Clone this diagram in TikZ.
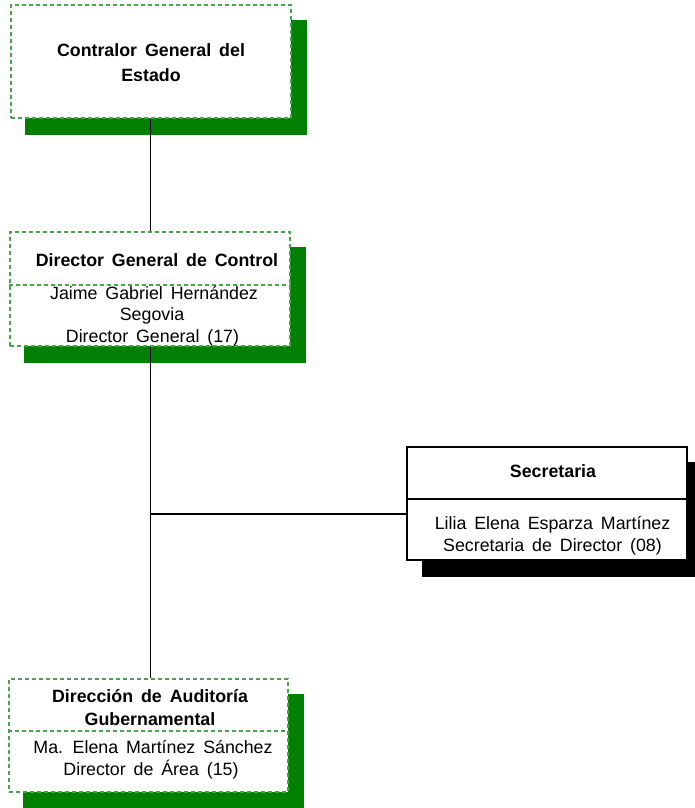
\documentclass[tikz,border=0pt]{standalone}
\usepackage{fontspec}
\setmainfont[WordSpace=1.6]{Liberation Sans}
\usetikzlibrary{backgrounds}
\definecolor{dashgreen}{RGB}{70,165,70}
\definecolor{shgreen}{RGB}{0,128,0}
\tikzset{
  gbox/.style={draw=dashgreen, line width=1.3bp, dash pattern=on 4bp off 3bp, fill=white, rectangle, inner sep=0pt},
  kbox/.style={draw=black, line width=1.1bp, fill=white, rectangle, inner sep=0pt},
  gline/.style={draw=dashgreen, line width=1.3bp, dash pattern=on 4bp off 3bp},
  kline/.style={draw=black, line width=1.1bp},
  txt/.style={anchor=base, inner sep=0pt, font=\fontsize{17.8bp}{22bp}\selectfont},
  hd/.style={txt, font=\fontsize{17.8bp}{22bp}\selectfont\bfseries},
  conn/.style={draw=black, line width=1.8bp},
}
\begin{document}
\begin{tikzpicture}[x=1bp, y=-1bp]
\useasboundingbox (0,0) rectangle (695,808);
% boxes
\node[gbox, minimum width=280bp, minimum height=113bp] (b1) at (151,61.5) {};
\node[gbox, minimum width=280bp, minimum height=114bp] (b2) at (150,289) {};
\node[kbox, minimum width=280bp, minimum height=113bp] (s) at (547,503.5) {};
\node[gbox, minimum width=279bp, minimum height=113bp] (b4) at (148.5,735.5) {};
% shadows
\begin{pgfonlayer}{background}
\fill[shgreen] ([shift={(15,16)}]b1.south west) rectangle ([shift={(15,16)}]b1.north east);
\fill[shgreen] ([shift={(15,16)}]b2.south west) rectangle ([shift={(15,16)}]b2.north east);
\fill[black] ([shift={(16,16)}]s.south west) rectangle ([shift={(16,16)}]s.north east);
\fill[shgreen] ([shift={(15,16)}]b4.south west) rectangle ([shift={(15,16)}]b4.north east);
\end{pgfonlayer}
% dividers
\draw[gline] (b2.west |- 0,285) -- (b2.east |- 0,285);
\draw[kline] (s.west |- 0,499) -- (s.east |- 0,499);
\draw[gline] (b4.west |- 0,731) -- (b4.east |- 0,731);
% texts
\node[hd] (t1a) at (151,57) {Contralor General del};
\node[hd] (t1b) at (151,81) {Estado};
\node[hd] (t2a) at (157,266) {Director General de Control};
\node[txt] (t2b) at (154,299) {Jaime Gabriel Hernández};
\node[txt] (t2c) at (152,320.5) {Segovia};
\node[txt] (t2d) at (152.5,342) {Director General (17)};
\node[hd] (t3a) at (553,477) {Secretaria};
\node[txt] (t3b) at (552.5,529) {Lilia Elena Esparza Martínez};
\node[txt] (t3c) at (552.5,551) {Secretaria de Director (08)};
\node[hd] (t4a) at (150,702) {Dirección de Auditoría};
\node[hd] (t4b) at (150,725) {Gubernamental};
\node[txt] (t4c) at (153,753) {Ma. Elena Martínez Sánchez};
\node[txt] (t4d) at (151,775) {Director de Área (15)};
% connectors
\coordinate (j) at (150.5,514);
\draw[conn] (b1.south -| j) -- (b2.north -| j);
\draw[conn] (b2.south -| j) -- (b4.north -| j);
\draw[conn] (j) -- (s.west |- j);
\end{tikzpicture}
\end{document}
